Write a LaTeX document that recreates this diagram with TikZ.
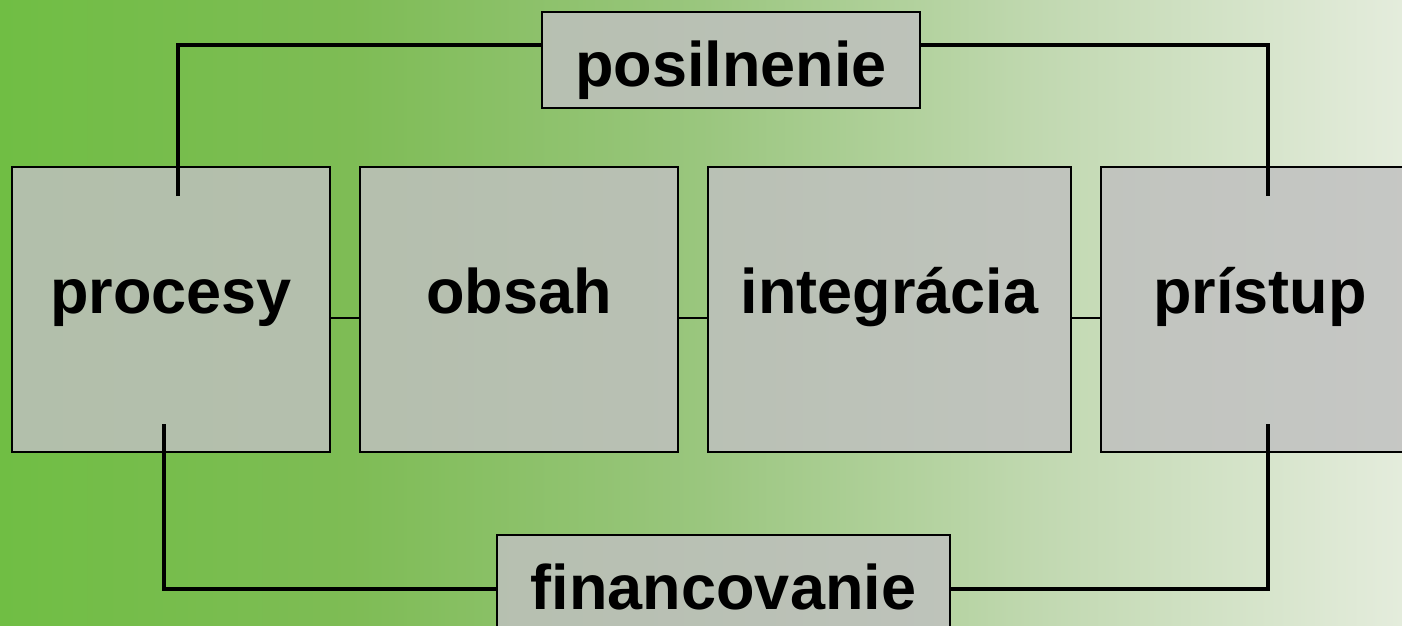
\documentclass[tikz,border=0pt]{standalone}
\usepackage{fontspec}
\setmainfont{Liberation Sans}
\usetikzlibrary{positioning}

\definecolor{green0}{HTML}{70BE44}
\definecolor{green1}{HTML}{7EBC55}
\definecolor{green2}{HTML}{9AC67E}
\definecolor{green3}{HTML}{C2D9B2}
\definecolor{green4}{HTML}{E4ECDC}
\definecolor{boxgray}{HTML}{C0C0C0}
\pgfdeclarehorizontalshading{bggreen}{100bp}{color(0bp)=(green0); color(25bp)=(green0);
    color(37.5bp)=(green1); color(50bp)=(green2); color(62.5bp)=(green3);
    color(75bp)=(green4); color(100bp)=(green4)}

\tikzset{
    area/.style={draw=black, line width=1.8pt, fill=boxgray, fill opacity=0.83, text opacity=1,
        font=\fontsize{63}{70}\selectfont\bfseries, inner sep=0pt, outer sep=0pt},
    bigbox/.style={area, minimum width=318pt, minimum height=285pt, text height=32pt, text depth=25pt},
    topbox/.style={area, minimum height=96pt, text height=52pt, text depth=0pt},
    link/.style={line width=3.5pt},
    thinlink/.style={line width=2pt}
}

\begin{document}
\begin{tikzpicture}[x=1pt,y=-1pt]
        \useasboundingbox (0,0) rectangle (1402,626);
        \shade[shading=bggreen] (0,0) rectangle (1402,626);
        % the four main areas
        \node[bigbox] (procesy) at (171,309.5) {procesy};
        \node[bigbox, right=30pt of procesy] (obsah) {obsah};
        \node[bigbox, minimum width=363pt, right=30pt of obsah] (integracia) {integrácia};
        \node[bigbox, right=30pt of integracia] (pristup) {prístup};
        \node[topbox, minimum width=378pt] (posilnenie) at (731,60) {posilnenie};
        \node[topbox, minimum width=453pt] (financovanie) at (723.5,583) {financovanie};
        \coordinate (procesyTop) at (178,196);
        \coordinate (pristupTop) at (1268,196);
        \coordinate (procesyBot) at (164,424);
        \coordinate (pristupBot) at (1268,424);
        \draw[thinlink] ([yshift=-8.5pt]procesy.east) -- ([yshift=-8.5pt]obsah.west);
        \draw[thinlink] ([yshift=-8.5pt]obsah.east) -- ([yshift=-8.5pt]integracia.west);
        \draw[thinlink] ([yshift=-8.5pt]integracia.east) -- ([yshift=-8.5pt]pristup.west);
        \draw[link] (procesyTop) |- ([yshift=15pt]posilnenie.west);
        \draw[link] ([yshift=15pt]posilnenie.east) -| (pristupTop);
        \draw[link] (procesyBot) |- ([yshift=-6pt]financovanie.west);
        \draw[link] ([yshift=-6pt]financovanie.east) -| (pristupBot);
    \end{tikzpicture}
\end{document}
